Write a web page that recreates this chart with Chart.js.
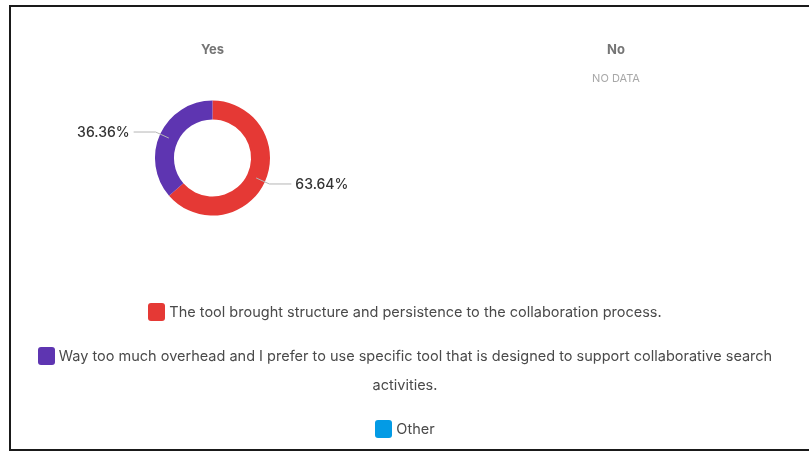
<!DOCTYPE html>
<html lang="en">
<head>
    <meta charset="UTF-8">
    <title>Survey breakdown</title>
    <script src="https://cdn.jsdelivr.net/npm/chart.js"></script>
    <style>
        body { margin: 0; background: #fff; font-family: Inter, Arial, sans-serif; overflow: hidden; }
        .frame {
            position: absolute; left: 9px; top: 5px; width: 830px; height: 442px;
            border: 2px solid #1a1a1a; border-right: none;
        }
        canvas { position: absolute; top: 0; }
        #yesChart { left: 0; }
        #noChart { left: 414px; }

        /* legend under both charts */
        #legend {
            position: absolute; left: 12px; top: 297px; width: 786px;
            text-align: center; font-size: 14.5px; color: #4a4a4a;
        }
        #legend .item { line-height: 29px; margin-bottom: 15px; }
        #legend .swatch {
            display: inline-block; width: 17px; height: 18px; border-radius: 3px;
            vertical-align: -4px; margin-right: 4px;
        }
    </style>
</head>
<body>

    <div class="frame"></div>
    <canvas id="yesChart"></canvas>
    <canvas id="noChart"></canvas>
    <div id="legend"></div>

    <script>
        const categories = [
            'The tool brought structure and persistence to the collaboration process.',
            'Way too much overhead and I prefer to use specific tool that is designed to support collaborative search activities.',
            'Other'
        ];
        const colors = ['#e53935', '#5e35b1', '#039be5'];
        const yesValues = [63.64, 36.36, 0];   // percent
        const noValues = [];                    // no responses

        // Legend
        let legend = document.getElementById('legend');
        categories.forEach((name, i) => {
            let div = document.createElement('div');
            div.className = 'item';
            let sw = document.createElement('span');
            sw.className = 'swatch';
            sw.style.background = colors[i];
            div.appendChild(sw);
            div.appendChild(document.createTextNode(name));
            legend.appendChild(div);
        });

        // Percentage labels with leader lines
        const leaderLabels = {
            id: 'leaderLabels',
            afterDatasetsDraw(chart) {
                let ctx = chart.ctx;
                let meta = chart.getDatasetMeta(0);
                let values = chart.data.datasets[0].data;
                meta.data.forEach((arc, i) => {
                    if (!values[i]) return;
                    let p = arc.getProps(['x', 'y', 'startAngle', 'endAngle', 'innerRadius', 'outerRadius'], true);
                    let a = (p.startAngle + p.endAngle) / 2;
                    let midR = (p.innerRadius + p.outerRadius) / 2;
                    let cos = Math.cos(a), sin = Math.sin(a);
                    let x1 = p.x + midR * cos, y1 = p.y + midR * sin;
                    let x2 = p.x + (p.outerRadius + 5) * cos, y2 = p.y + (p.outerRadius + 5) * sin;
                    let right = cos >= 0;
                    let x3 = x2 + (right ? 22 : -22);

                    ctx.save();
                    ctx.strokeStyle = '#b5b5b5';
                    ctx.lineWidth = 1;
                    ctx.beginPath();
                    ctx.moveTo(x1, y1);
                    ctx.lineTo(x2, y2);
                    ctx.lineTo(x3, y2);
                    ctx.stroke();

                    ctx.fillStyle = '#333';
                    ctx.font = '500 14px Inter, Arial, sans-serif';
                    ctx.textBaseline = 'middle';
                    ctx.textAlign = right ? 'left' : 'right';
                    ctx.fillText(values[i].toFixed(2) + '%', x3 + (right ? 4 : -4), y2 + 1);
                    ctx.restore();
                });
            }
        };

        const titleFont = { family: 'Inter, Arial, sans-serif', size: 13, weight: 'bold' };

        let yesCanvas = document.getElementById('yesChart');
        yesCanvas.width = 425; yesCanvas.height = 320;
        new Chart(yesCanvas, {
            type: 'doughnut',
            data: {
                labels: categories,
                datasets: [{
                    data: yesValues,
                    backgroundColor: colors,
                    borderWidth: 0,
                    radius: 57.5,
                    cutout: '67%'
                }]
            },
            options: {
                responsive: false,
                animation: false,
                layout: { padding: { bottom: 80.6 } },
                plugins: {
                    legend: { display: false },
                    tooltip: { enabled: false },
                    title: {
                        display: true, text: 'Yes', color: '#757575', font: titleFont,
                        padding: { top: 42, bottom: 19 }
                    }
                }
            },
            plugins: [leaderLabels]
        });

        let noCanvas = document.getElementById('noChart');
        noCanvas.width = 404; noCanvas.height = 320;
        new Chart(noCanvas, {
            type: 'doughnut',
            data: {
                labels: categories,
                datasets: [{ data: noValues, backgroundColor: colors, borderWidth: 0 }]
            },
            options: {
                responsive: false,
                animation: false,
                plugins: {
                    legend: { display: false },
                    tooltip: { enabled: false },
                    title: {
                        display: true, text: 'No', color: '#757575', font: titleFont,
                        padding: { top: 42, bottom: 0 }
                    },
                    subtitle: {
                        display: true, text: 'NO DATA', color: '#a8a8a8',
                        font: { family: 'Inter, Arial, sans-serif', size: 11 },
                        padding: { top: 14.8, bottom: 0 }
                    }
                }
            }
        });
    </script>

</body>
</html>
